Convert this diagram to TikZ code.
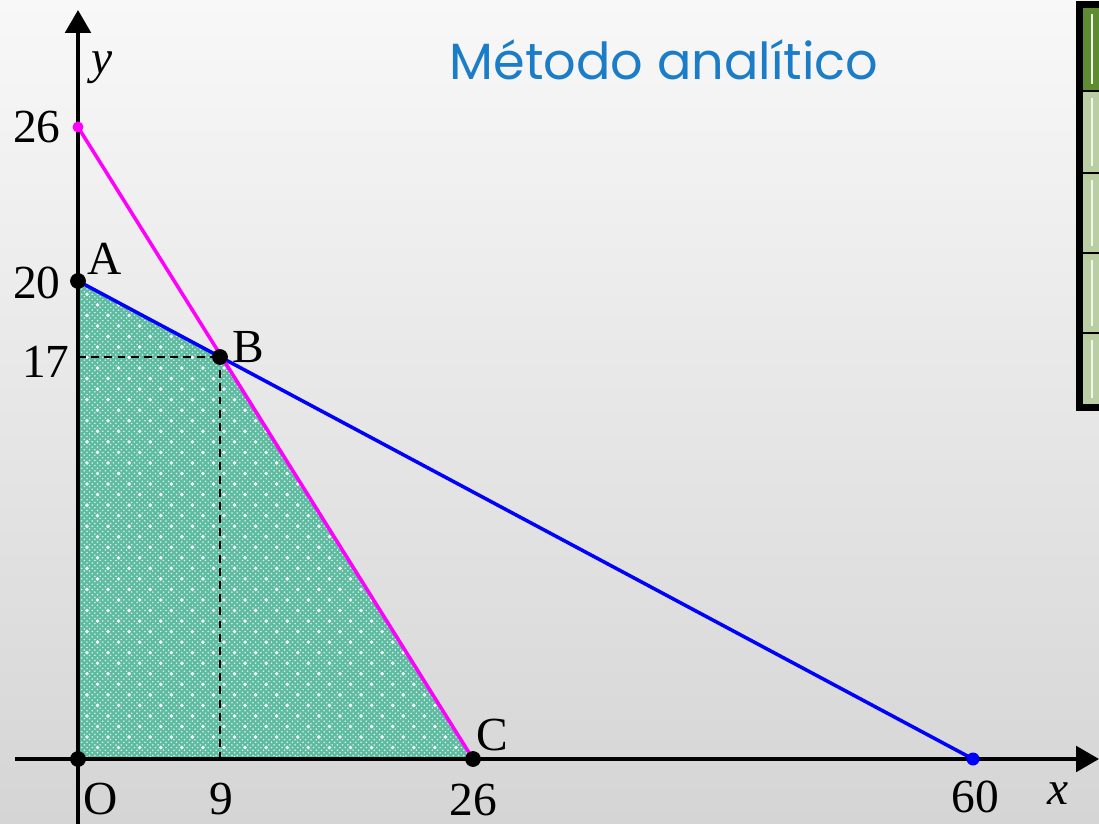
\documentclass[tikz,border=0pt]{standalone}
\usepackage{fontspec}
\setmainfont{Liberation Serif}
\newfontfamily\titlefont{Poppins}
\usetikzlibrary{arrows.meta,patterns}
\definecolor{bgtop}{HTML}{F8F8F8}
\definecolor{bgbottom}{HTML}{D5D5D5}
\definecolor{regionfill}{HTML}{5DBB9F}
\definecolor{titleblue}{HTML}{1B7DC8}
\definecolor{darkgreen}{HTML}{5E8C31}
\definecolor{lightgreen}{HTML}{B9CEA2}
\definecolor{linepink}{HTML}{FF00FF}
\definecolor{lineblue}{HTML}{0000FF}
\pgfdeclarepatternformonly{sparkles}{\pgfqpoint{-2pt}{-2pt}}{\pgfqpoint{14pt}{14pt}}{\pgfqpoint{12pt}{12pt}}{
  \pgfpathcircle{\pgfqpoint{1.5pt}{1.5pt}}{1.1pt}
  \pgfpathcircle{\pgfqpoint{7.5pt}{7.5pt}}{1.1pt}
  \pgfusepath{fill}
}
\tikzset{
  axis/.style={line width=2pt, -{Triangle[length=13pt,width=14.5pt]}},
  guide/.style={line width=1.3pt, dash pattern=on 4.5pt off 3pt},
  bound/.style={line width=2pt},
  lbl/.style={font=\fontsize{27}{30}\selectfont, inner sep=0pt},
}
\begin{document}
\begin{tikzpicture}[x=0.02cm, y=-0.02cm]
  \useasboundingbox (0,0) rectangle (1099,824);
  \shade[top color=bgtop, bottom color=bgbottom] (0,0) rectangle (1099,824);

  \coordinate (O) at (78,759);
  \coordinate (A) at (78,281);
  \coordinate (B) at (220,357);
  \coordinate (C) at (473,759);
  \coordinate (Y26) at (78,127);
  \coordinate (X60) at (973,759);
  \coordinate (Y17) at (78,357);
  \coordinate (X9) at (220,759);

  \fill[regionfill] (O) -- (A) -- (B) -- (C) -- cycle;
  \fill[pattern=crosshatch dots, pattern color=white!80!regionfill] (O) -- (A) -- (B) -- (C) -- cycle;
  \fill[pattern=sparkles, pattern color=white] (O) -- (A) -- (B) -- (C) -- cycle;

  \draw[guide] (Y17) -- (B);
  \draw[guide] (B) -- (X9);
  \draw[bound, lineblue] (A) -- (X60);
  \draw[bound, linepink] (Y26) -- (C);

  \draw[axis] (15,759) -- (1099,759);
  \draw[axis] (78,824) -- (78,10);

  \filldraw (O) circle (7.5);
  \filldraw (A) circle (7.5);
  \filldraw (B) circle (7.5);
  \filldraw (C) circle (7.5);
  \fill[linepink] (Y26) circle (5.5);
  \fill[lineblue] (X60) circle (6.5);

  \node[lbl] (y26) at (37,127) {26};
  \node[lbl] (y20) at (37,283) {20};
  \node[lbl] (y17) at (46,362) {17};
  \node[lbl] (labA) at (105,259) {A};
  \node[lbl] (labB) at (248,347) {B};
  \node[lbl] (labC) at (492,735) {C};
  \node[lbl] (labO) at (101,799) {O};
  \node[lbl] (x9) at (221,799) {9};
  \node[lbl] (x26) at (473,800) {26};
  \node[lbl] (x60) at (975,797) {60};
  \node[lbl] (labx) at (1058,794) {\textit{x}};
  \node[lbl] (laby) at (102,68) {\textit{y}};

  \node[font=\titlefont\fontsize{29}{33}\selectfont, text=titleblue] (title) at (664,60) {Método analítico};

  \fill[black] (1076,1) rectangle (1099,411);
  \fill[darkgreen] (1083,8) rectangle (1099,90);
  \foreach \top/\bot in {92/172, 174/252, 254/332, 334/404}
    \fill[lightgreen] (1083,\top) rectangle (1099,\bot);
  \foreach \top/\bot in {14/84, 98/166, 180/246, 260/326, 340/398}
    \draw[white!80!lightgreen, line width=1pt] (1092,\top) -- (1092,\bot);
\end{tikzpicture}
\end{document}
